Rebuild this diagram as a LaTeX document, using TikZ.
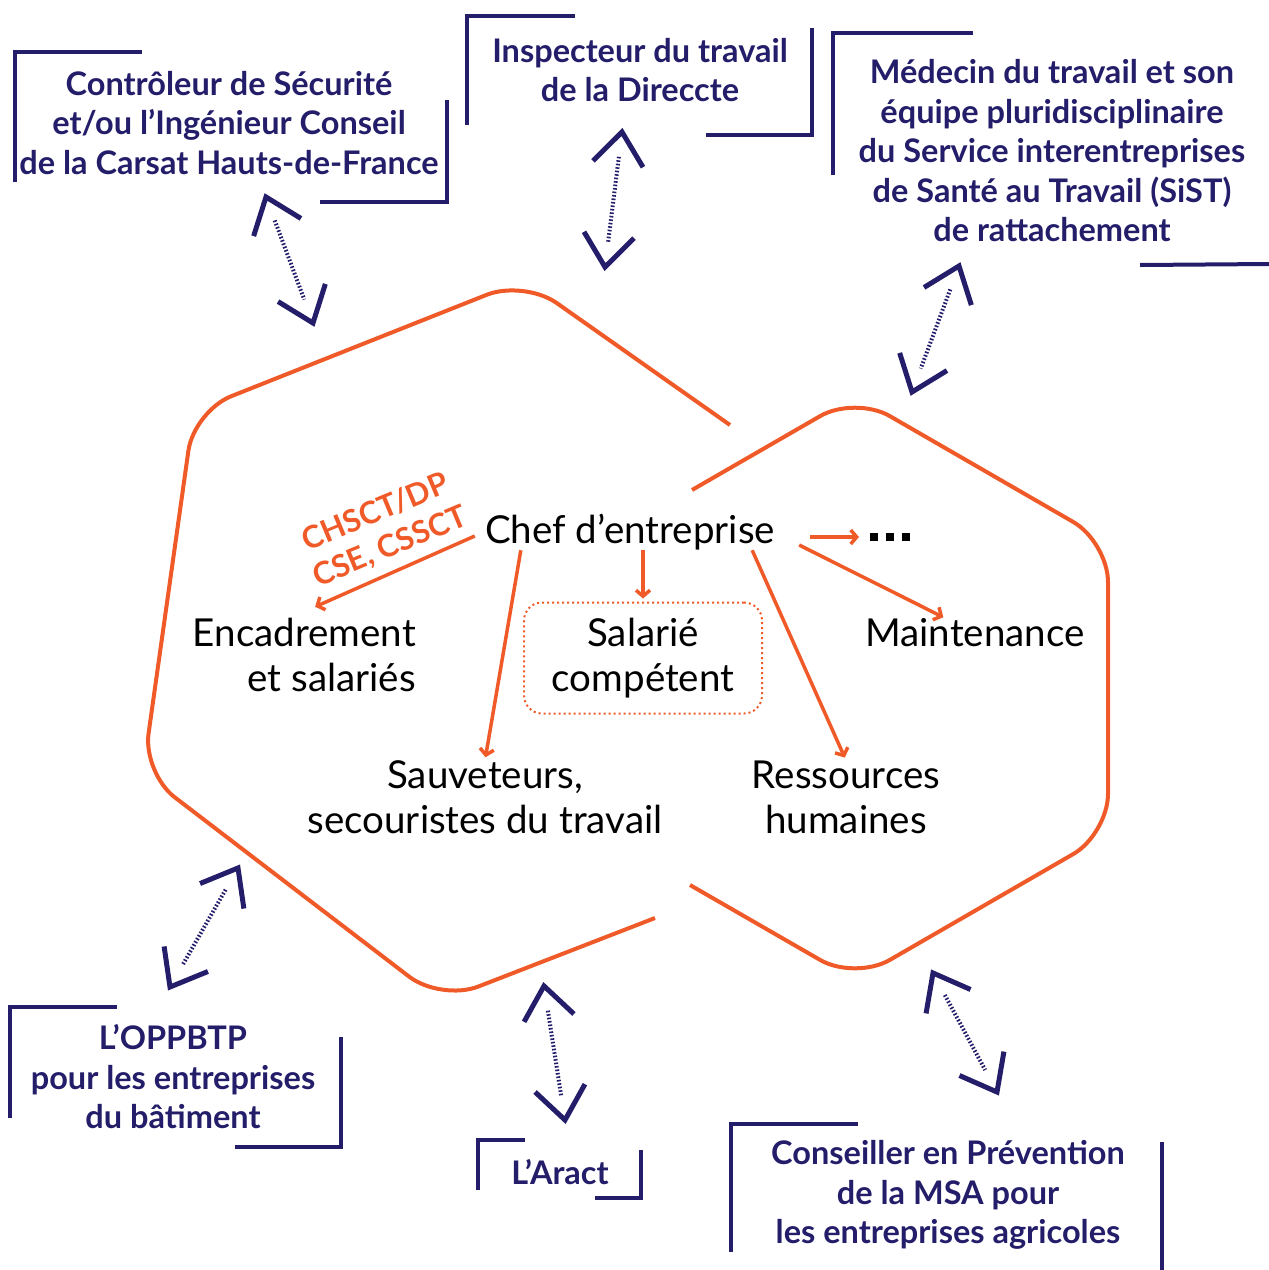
\documentclass[tikz,border=0pt]{standalone}
\usepackage{fontspec}
\setmainfont{Lato}
\usetikzlibrary{arrows.meta,calc}
\definecolor{cnavy}{RGB}{36,30,106}
\definecolor{corange}{RGB}{240,90,40}
\tikzset{
    hexline/.style={corange, line width=4pt, rounded corners=40pt},
    actor/.style={text=cnavy, font=\fontsize{32.5}{39.5}\selectfont\bfseries, align=center, inner sep=0pt},
    role/.style={font=\fontsize{38.5}{45}\selectfont, align=center, inner sep=0pt},
    bracket/.style={cnavy, line width=4pt},
    task/.style={corange, line width=3.5pt, -{Straight Barb[length=6pt,width=14pt]}, shorten >=3pt},
    link/.style={cnavy, line width=4pt, dash pattern=on 1.6pt off 1.9pt},
    chev/.style={cnavy, line width=5pt},
}
% dotted double arrow with open chevrons
\newcommand\linkpair[2]{
    \draw[link] ($(#1)!25pt!(#2)$) -- ($(#2)!25pt!(#1)$);
    \draw[chev] ($(#1)!41pt!38:(#2)$) -- (#1) -- ($(#1)!41pt!-38:(#2)$);
    \draw[chev] ($(#2)!41pt!38:(#1)$) -- (#2) -- ($(#2)!41pt!-38:(#1)$);
}
\begin{document}
\begin{tikzpicture}[x=1pt, y=-1pt]
    \useasboundingbox (0,0) rectangle (1269,1270);
    % the two hexagons
    \draw[hexline] (730,425) -- (524,280) -- (194,411) -- (143,773) -- (441,1001) -- (655,918);
    \draw[hexline] (692,490) -- (855,396) -- (1108,542) -- (1108,834) -- (855,980) -- (690,885);

    % inside
    \node[role] (chef) at (630,532) {Chef d’entreprise};
    \node[role, align=right, anchor=east] (encad) at (416,655) {Encadrement\\et salariés};
    \node[role, draw=corange, line width=2pt, dash pattern=on 2pt off 3pt, rounded corners=18pt,
        minimum width=238pt, minimum height=111pt] (salarie) at (643,658) {Salarié\\compétent};
    \node[role] (maint) at (975,633) {Maintenance};
    \node[role] (sauv) at (485,797) {Sauveteurs,\\secouristes du travail};
    \node[role] (rh) at (846,797) {Ressources\\humaines};
    \coordinate (dots) at (862,537);
    \foreach \i in {0,1,2}
        \fill ($(dots)+(8+16*\i,-4)$) rectangle ++(8,8);

    \node[text=corange, font=\fontsize{31}{37}\selectfont\bfseries, align=center, inner sep=0pt,
        rotate=22.6] (dp) at (383,530) {CHSCT/DP\\CSE, CSSCT};

    \draw[task] ([xshift=-10pt,yshift=-4pt]chef.west) -- ([xshift=8pt,yshift=10pt]encad.north);
    \draw[task] (chef.south -| salarie.north) -- (salarie.north);
    \draw[task] ([xshift=36pt]chef.south west) -- (sauv.north);
    \draw[task] ([xshift=-23pt]chef.south east) -- (rh.north);
    \draw[task] ([xshift=24pt,yshift=-13pt]chef.east) -- ([xshift=-29pt]maint.north);
    \draw[task] ([xshift=35pt,yshift=-5pt]chef.east) -- (dots);

    % partners
    \node[actor] (carsat) at (229,123) {Contrôleur de Sécurité\\et/ou l’Ingénieur Conseil\\de la Carsat Hauts-de-France};
    \node[actor] (direccte) at (640,70) {Inspecteur du travail\\de la Direccte};
    \node[actor] (sist) at (1052,151) {Médecin du travail et son\\équipe pluridisciplinaire\\du Service interentreprises\\de Santé au Travail (SiST)\\de rattachement};
    \node[actor] (oppbtp) at (173,1077) {L’OPPBTP\\pour les entreprises\\du bâtiment};
    \node[actor] (aract) at (560,1172) {L’Aract};
    \node[actor] (msa) at (948,1195) {Conseiller en Prévention\\de la MSA pour\\les entreprises agricoles};

    % corner brackets
    \draw[bracket] (142,52) -- (15,52) -- (15,182);
    \draw[bracket] (447,100) -- (447,202) -- (320,202);
    \draw[bracket] (575,16) -- (467,16) -- (467,125);
    \draw[bracket] (812,28) -- (812,135) -- (706,135);
    \draw[bracket] (973,33) -- (833,33) -- (833,175);
    \draw[bracket] (1140,265) -- (1269,264);
    \draw[bracket] (117,1007) -- (10,1007) -- (10,1118);
    \draw[bracket] (341,1037) -- (341,1147) -- (235,1147);
    \draw[bracket] (525,1140) -- (478,1140) -- (478,1190);
    \draw[bracket] (641,1150) -- (641,1198) -- (595,1198);
    \draw[bracket] (858,1124) -- (731,1124) -- (731,1252);
    \draw[bracket] (1162,1142) -- (1162,1270);

    % links
    \coordinate (l1a) at (266,197);  \coordinate (l1b) at (313,323);
    \coordinate (l2a) at (622,132);  \coordinate (l2b) at (605,267);
    \coordinate (l3a) at (959,266);  \coordinate (l3b) at (912,392);
    \coordinate (l4a) at (238,868);  \coordinate (l4b) at (170,987);
    \coordinate (l5a) at (544,986);  \coordinate (l5b) at (565,1120);
    \coordinate (l6a) at (933,973);  \coordinate (l6b) at (997,1092);
    \foreach \k in {1,...,6}
        \linkpair{l\k a}{l\k b};
\end{tikzpicture}
\end{document}
